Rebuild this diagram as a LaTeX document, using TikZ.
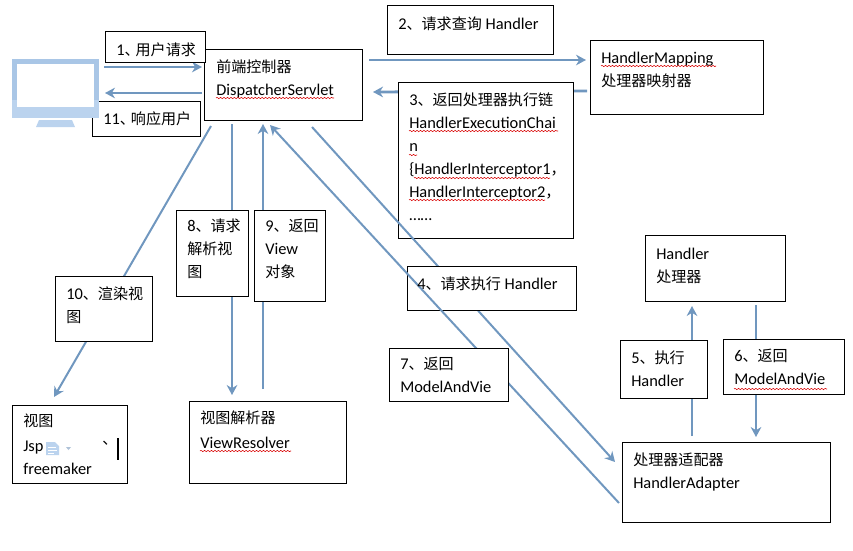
\documentclass[tikz,border=0pt]{standalone}
\usepackage{fontspec}
\setmainfont{Carlito}
\newfontfamily\cjk{Noto Sans CJK SC}
\usetikzlibrary{arrows.meta,backgrounds,decorations.pathmorphing}
\newcommand{\zh}[1]{{\cjk\fontsize{11.3}{17.25}\selectfont #1}}
\definecolor{flowblue}{HTML}{7097BF}
\definecolor{iconblue}{HTML}{A9C6E6}
\definecolor{iconpale}{HTML}{BBD3EE}
\begin{document}
\begin{tikzpicture}[x=0.75pt, y=-0.75pt, >={Stealth[length=7.5pt,width=8pt]}, line join=miter]
\tikzset{
  box/.style={draw=black, fill=white, line width=0.75pt, anchor=north west, inner sep=0pt},
  lab/.style={anchor=north west, inner sep=0pt, align=left, font=\fontsize{12.3}{17.25}\selectfont},
  flow/.style={->, draw=flowblue, line width=2.1pt},
  thin flow/.style={->, draw=flowblue, line width=1.5pt},
  wavy/.style={draw=red!85!black, line width=0.4pt, decorate, decoration={snake, amplitude=0.5pt, segment length=2.6pt}},
}
\useasboundingbox (0,0) rectangle (853,550);

% boxes
\node[box, minimum width=158*0.75pt, minimum height=71*0.75pt] (disp) at (204,49) {};
\node[box, minimum width=100*0.75pt, minimum height=31*0.75pt] (req) at (105,31) {};
\node[box, minimum width=108*0.75pt, minimum height=35*0.75pt] (resp) at (92,101) {};
\node[box, minimum width=166*0.75pt, minimum height=49*0.75pt] (query) at (387,5) {};
\node[box, minimum width=173*0.75pt, minimum height=74*0.75pt] (mapping) at (590,40) {};
\node[box, minimum width=175*0.75pt, minimum height=156*0.75pt] (chain) at (398,82) {};
\node[box, minimum width=140*0.75pt, minimum height=66*0.75pt] (handler) at (645,235) {};
\node[box, minimum width=87*0.75pt, minimum height=58*0.75pt] (run) at (620,340) {};
\node[box, minimum width=121*0.75pt, minimum height=55*0.75pt] (ret) at (723,339) {};
\node[box, minimum width=208*0.75pt, minimum height=80*0.75pt] (adapter) at (622,442) {};
\node[box, minimum width=72*0.75pt, minimum height=86*0.75pt] (parse) at (176,210) {};
\node[box, minimum width=71*0.75pt, minimum height=91*0.75pt] (back) at (254,210) {};
\node[box, minimum width=97*0.75pt, minimum height=65*0.75pt] (render) at (55,276) {};
\node[box, minimum width=115*0.75pt, minimum height=78*0.75pt] (view) at (12,405) {};
\node[box, minimum width=157*0.75pt, minimum height=82*0.75pt] (resolver) at (189,401) {};

% the two long diagonals lie over one box and under the next
\draw[thin flow] ([shift={(108,6)}]disp.south west) -- ([shift={(-7,20)}]adapter.north west);
\node[box, minimum width=169*0.75pt, minimum height=44*0.75pt] (exec) at (407,266) {};
\draw[thin flow] ([shift={(-3,61)}]adapter.north west) -- ([shift={(66,4)}]disp.south west);
\node[box, minimum width=119*0.75pt, minimum height=53*0.75pt] (model) at (389,348) {};

% monitor
\fill[iconblue] (12,59) rectangle (99,100);
\fill[iconpale] (12,100) rectangle (99,118);
\fill[white] (17,64) rectangle (94,107);
\fill[iconpale] (39,120) -- (72,120) -- (75,127) -- (36,127) -- cycle;
\coordinate (screenin) at (104,67);
\coordinate (screenout) at (105,93);
\coordinate (viewtop) at (54,397);

% connectors
\begin{scope}[on background layer]
\draw[flow] (screenin) -- ([shift={(-2,18)}]disp.north west);
\draw[flow] ([shift={(-2,44)}]disp.north west) -- (screenout);
\draw[flow] ([shift={(6,11)}]disp.north east) -- ([shift={(-4,20)}]mapping.north west);
\draw[flow] ([shift={(-3,51)}]mapping.north west) -- ([shift={(10,-29)}]disp.south east);
\draw[thin flow] ([shift={(7,5)}]disp.south west) -- (viewtop);
\draw[flow] ([shift={(28,3)}]disp.south west) -- ([shift={(43,-6)}]resolver.north west);
\draw[flow] ([shift={(74,-12)}]resolver.north west) -- ([shift={(59,3)}]disp.south west);
\draw[flow] ([shift={(70,-6)}]adapter.north west) -- ([shift={(47,4)}]handler.south west);
\draw[flow] ([shift={(111,3)}]handler.south west) -- ([shift={(134,-5)}]adapter.north west);
\end{scope}

% texts
\node[lab] (t1) at (116,42) {1\zh{、\hspace{-3pt}用户请求}};
\node[lab] (td) at (216,59.5) {\zh{前端控制器}\\DispatcherServlet};
\node[lab] (t11) at (103,111) {11\zh{、\hspace{-3pt}响应用户}};
\node[lab] (t2) at (398,16.5) {2\zh{、请求查询} Handler};
\node[lab] (tm) at (601,52) {HandlerMapping\\\zh{处理器映射器}};
\node[lab] (t3) at (409,92.5) {3\zh{、返回处理器执行链}\\HandlerExecutionChai\\n\\\{HandlerInterceptor1\zh{，}\\HandlerInterceptor2\zh{，}\\……};
\node[lab] (th) at (656,248) {Handler\\\zh{处理器}};
\node[lab] (t4) at (417,276.5) {4\zh{、请求执行} Handler};
\node[lab] (t5) at (631,350.5) {5\zh{、执行}\\Handler};
\node[lab] (t6) at (734,348.5) {6\zh{、返回}\\ModelAndVie};
\node[lab] (ta) at (633,452.5) {\zh{处理器适配器}\\HandlerAdapter};
\node[lab] (t7) at (400,357) {7\zh{、返回}\\ModelAndVie};
\node[lab] (t8) at (187,219) {8\zh{、请求}\\\zh{解析视}\\\zh{图}};
\node[lab] (t9) at (265,219) {9\zh{、返回}\\View\\\zh{对象}};
\node[lab] (t10) at (66,287) {10\zh{、渲染视}\\\zh{图}};
\node[lab] (tv) at (23,414) {\zh{视图}\\[1.5pt]Jsp\\freemaker};
\node[lab] (tc) at (102,441) {\zh{、}};
\node[lab] (tr) at (200,411) {\zh{视图解析器}\\[1pt]ViewResolver};

% spell marks
\draw[wavy] (216,98) -- (334,98);
\draw[wavy] (601,66) -- (716,66);
\draw[wavy] (409,131) -- (558,131);
\draw[wavy] (409,155) -- (417,155);
\draw[wavy] (414,178) -- (550,178);
\draw[wavy] (409,200) -- (545,200);
\draw[wavy] (734,389) -- (827,389);
\draw[wavy] (200,451) -- (291,451);

% document icon and cursor
\fill[iconpale] (46,442) -- (55,442) -- (59,446) -- (59,455) -- (46,455) -- cycle;
\draw[white, line width=0.6pt] (48,447) -- (56,447) (48,450) -- (57,450) (48,453) -- (54,453);
\fill[iconpale!80!gray] (66,447) -- (71,447) -- (68.5,450) -- cycle;
\fill[black] (117,438) rectangle (119,460);
\end{tikzpicture}
\end{document}
